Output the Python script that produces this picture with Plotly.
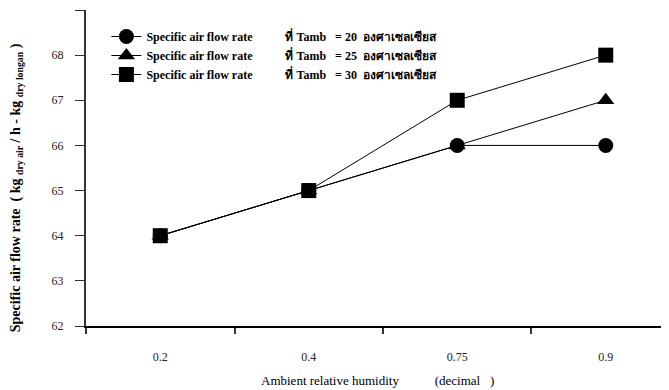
import plotly.graph_objects as go

humidity = ["0.2", "0.4", "0.75", "0.9"]
flow_t20 = [64, 65, 66, 66]
flow_t25 = [64, 65, 66, 67]
flow_t30 = [64, 65, 67, 68]
NB = "\u00a0"
series_names = [
    "Specific air flow rate" + NB * 11 + "ที่ Tamb" + NB * 3 + "= 20" + NB * 2 + "องศาเซลเซียส",
    "Specific air flow rate" + NB * 11 + "ที่ Tamb" + NB * 3 + "= 25" + NB * 2 + "องศาเซลเซียส",
    "Specific air flow rate" + NB * 11 + "ที่ Tamb" + NB * 3 + "= 30" + NB * 2 + "องศาเซลเซียส",
]
symbols = ["circle", "triangle-up", "square"]

SERIF = "Liberation Serif, Times New Roman, serif"

fig = go.Figure()
for name, vals, sym in zip(series_names, [flow_t20, flow_t25, flow_t30], symbols):
    fig.add_trace(go.Scatter(
        x=humidity, y=vals, name=name, mode="lines+markers",
        line=dict(color="black", width=1),
        marker=dict(symbol=sym, size=15, color="black"),
    ))

# page body has an 8px margin, so the figure is 8px smaller than the window
fig.update_layout(
    width=661, height=382,
    margin=dict(l=78, r=0, t=2, b=64, autoexpand=False),
    paper_bgcolor="white", plot_bgcolor="white",
    font=dict(family=SERIF, size=12, color="black"),
    showlegend=True,
    legend=dict(
        x=0.035, y=0.962, xanchor="left", yanchor="top",
        bgcolor="rgba(0,0,0,0)",
        font=dict(family=SERIF, size=12, color="black", weight="bold"),
        tracegroupgap=0, itemsizing="trace",
    ),
    xaxis=dict(
        type="category", range=[-0.5, 3.426],
        showline=True, linecolor="black", linewidth=1.5,
        ticks="outside", ticklen=6, tickcolor="#333", tickwidth=1.5,
        tickson="boundaries", showgrid=False, zeroline=False,
        tickfont=dict(family=SERIF, size=12, color="#222"),
        ticklabelstandoff=19,
    ),
    yaxis=dict(
        range=[62, 69], dtick=1,
        showline=True, linecolor="#333", linewidth=2,
        ticks="outside", ticklen=9, tickcolor="#333", tickwidth=1,
        showgrid=False, zeroline=False,
        tickfont=dict(family=SERIF, size=12, color="#222"),
        ticklabelstandoff=9,
    ),
    annotations=[
        dict(text="Specific air flow rate  ( kg <sub>dry air</sub> / h - kg <sub>dry longan</sub> )",
             xref="paper", yref="paper", x=0, xshift=-70, y=0.436,
             textangle=-90, showarrow=False, xanchor="center", yanchor="middle",
             font=dict(family=SERIF, size=14, color="black", weight="bold")),
        dict(text="Ambient relative humidity" + NB * 11 + "(decimal" + NB * 3 + ")",
             xref="paper", yref="paper", x=(377 - 86) / 583, y=0, yshift=-54,
             showarrow=False, xanchor="center", yanchor="middle",
             font=dict(family=SERIF, size=13, color="black")),
    ],
)

fig.write_html("out.html")
